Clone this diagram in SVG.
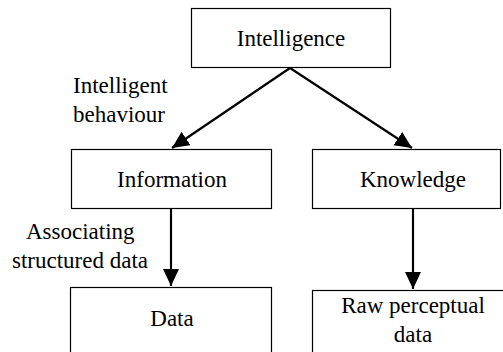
<svg xmlns="http://www.w3.org/2000/svg" width="503" height="352" viewBox="0 0 503 352">
<style>
.box{fill:#fff;stroke:#000;stroke-width:1.2}
.c{stroke:#000;stroke-width:2.2;fill:none}
</style>
<defs>
<marker id="ah" markerUnits="userSpaceOnUse" markerWidth="18" markerHeight="18" refX="17" refY="8" orient="auto">
<path d="M0,0 L17,8 L0,16 z" fill="#000"/>
</marker>
</defs>
<rect width="503" height="352" fill="#fff"/>
<g id="connectors">
<line class="c" x1="290" y1="68" x2="172" y2="148" marker-end="url(#ah)"/>
<line class="c" x1="290" y1="68" x2="412" y2="148" marker-end="url(#ah)"/>
<line class="c" x1="171" y1="209" x2="171" y2="286" marker-end="url(#ah)"/>
<line class="c" x1="413" y1="209" x2="413" y2="289" marker-end="url(#ah)"/>
<text font-family="Liberation Serif" font-size="23" x="73" y="93">Intelligent</text>
<text font-family="Liberation Serif" font-size="23" x="73" y="122">behaviour</text>
<text font-family="Liberation Serif" font-size="23" x="26" y="239">Associating</text>
<text font-family="Liberation Serif" font-size="23" x="12" y="268">structured data</text>
</g>
<g id="intelligence">
<rect class="box" x="191.5" y="8.5" width="199" height="59"/>
<text font-family="Liberation Serif" font-size="23" text-anchor="middle" x="291" y="46">Intelligence</text>
</g>
<g id="information">
<rect class="box" x="71.5" y="149.5" width="200" height="59"/>
<text font-family="Liberation Serif" font-size="23" text-anchor="middle" x="172" y="187">Information</text>
</g>
<g id="knowledge">
<rect class="box" x="312.5" y="149.5" width="188" height="59"/>
<text font-family="Liberation Serif" font-size="23" text-anchor="middle" x="413" y="187">Knowledge</text>
</g>
<g id="data">
<rect class="box" x="70.5" y="287.5" width="201" height="70"/>
<text font-family="Liberation Serif" font-size="23" text-anchor="middle" x="172" y="326">Data</text>
</g>
<g id="raw">
<rect class="box" x="312.5" y="290.5" width="200" height="70"/>
<text font-family="Liberation Serif" font-size="23" text-anchor="middle" x="413" y="313">Raw perceptual</text>
<text font-family="Liberation Serif" font-size="23" text-anchor="middle" x="413" y="342">data</text>
</g>
</svg>
